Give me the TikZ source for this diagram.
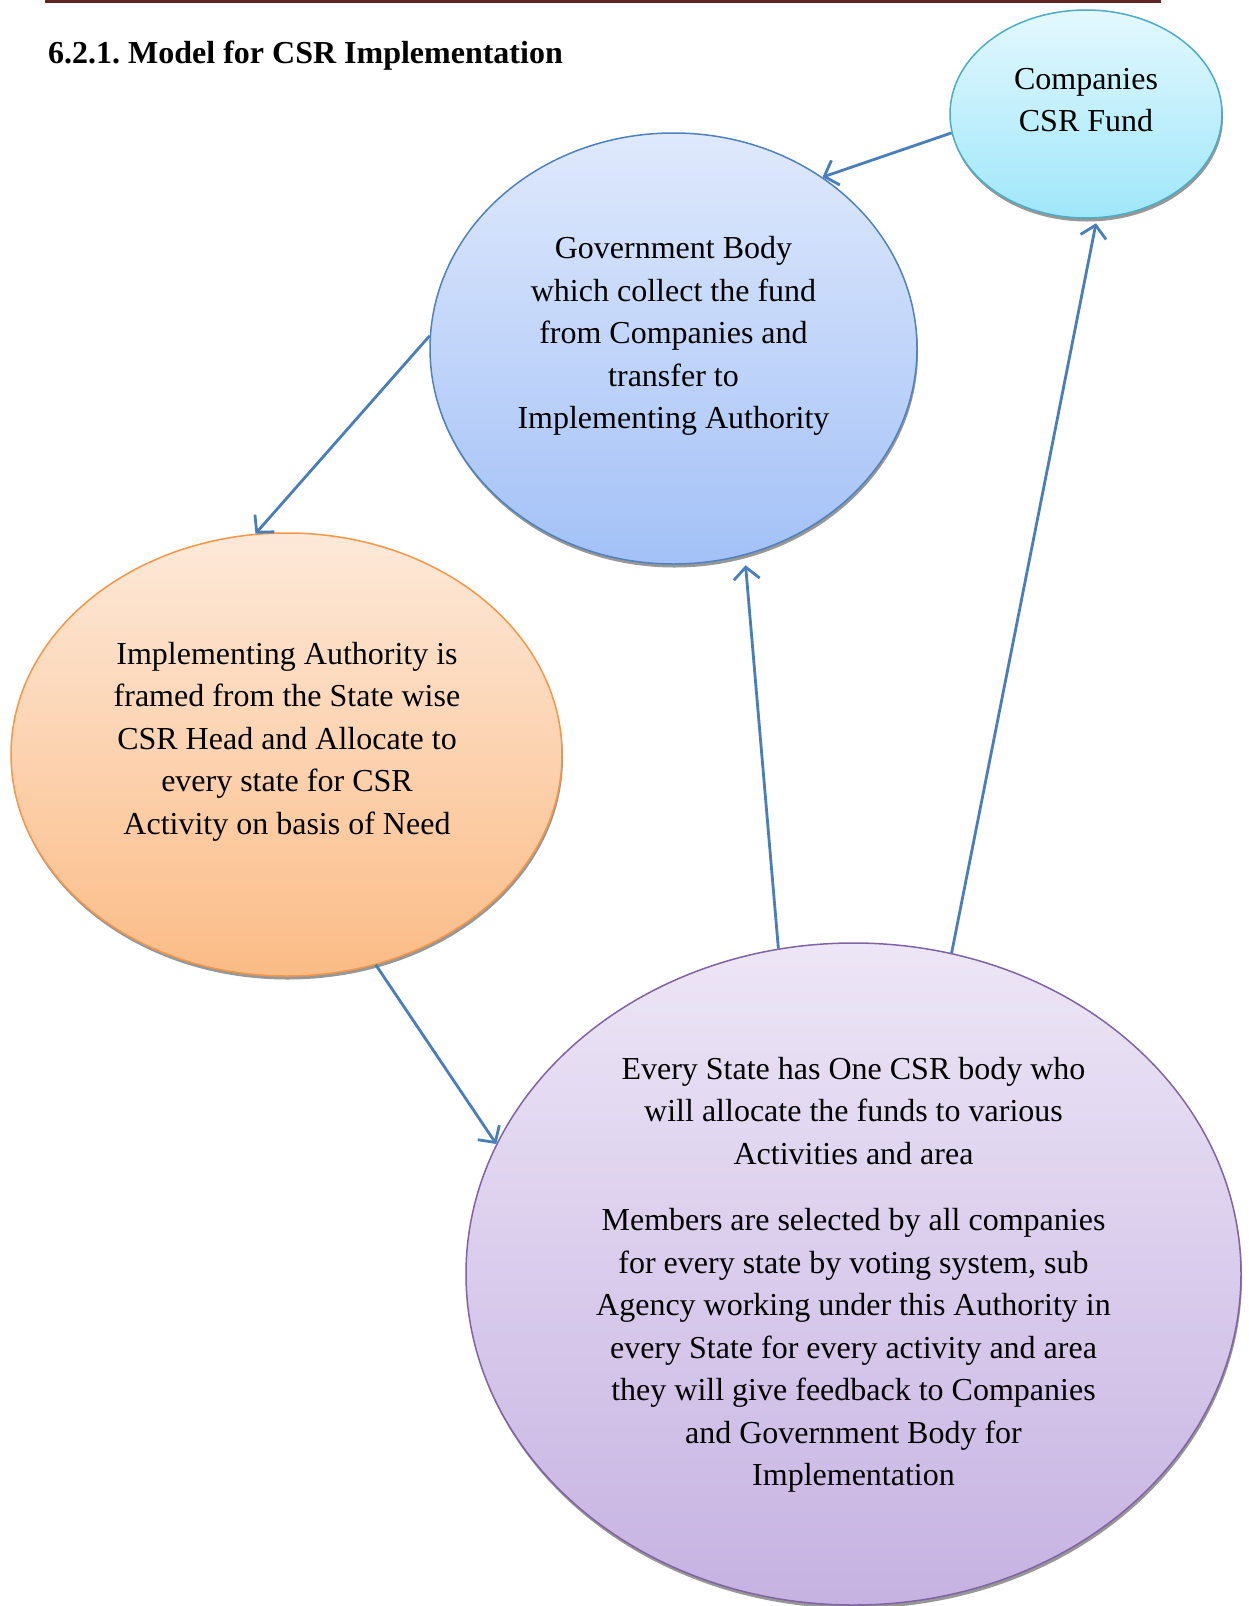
\documentclass[tikz,border=0pt]{standalone}
\usepackage{fontspec}
\setmainfont{Liberation Serif}
\usetikzlibrary{shapes.geometric,arrows.meta,shadows,calc}
\definecolor{arrowblue}{HTML}{4A7EBB}
\definecolor{topred}{HTML}{622423}
\definecolor{compdraw}{HTML}{4BACC6}
\definecolor{comptop}{HTML}{E3F8FE}
\definecolor{compbot}{HTML}{9FE7FA}
\definecolor{govdraw}{HTML}{4F81BD}
\definecolor{govtop}{HTML}{DFE9FC}
\definecolor{govbot}{HTML}{A3C1F7}
\definecolor{impdraw}{HTML}{F79646}
\definecolor{imptop}{HTML}{FDE9D9}
\definecolor{impbot}{HTML}{FBBC86}
\definecolor{evdraw}{HTML}{8064A2}
\definecolor{evtop}{HTML}{EDE6F6}
\definecolor{evbot}{HTML}{C6B2E2}
\frenchspacing
\begin{document}
\begin{tikzpicture}[x=1pt,y=-1pt,
  ell/.style={ellipse, draw, line width=1.5pt, inner sep=0pt,
    drop shadow={shadow xshift=1pt,shadow yshift=-3.5pt,fill=black!45,opacity=0.9}},
  txt/.style={align=center, font=\fontsize{32}{42.5}\selectfont, inner sep=0pt},
  conn/.style={draw=arrowblue, line width=2.8pt,
    -{Straight Barb[length=12pt,width=26pt]}}]
\useasboundingbox[fill=white] (0,0) rectangle (1248,1606);
\draw[line width=3pt, draw=topred] (45,1) -- (1161,1);
\node[anchor=base west, inner sep=0pt, font=\bfseries\fontsize{32}{38}\selectfont] (title) at (48,63) {6.2.1. Model for CSR Implementation};

\node[ell, draw=compdraw, top color=comptop, bottom color=compbot,
  minimum width=272pt, minimum height=208pt] (comp) at (1086,114) {};
\node[ell, draw=govdraw, top color=govtop, bottom color=govbot,
  minimum width=487pt, minimum height=431pt] (gov) at (673.5,348.5) {};
\node[ell, draw=impdraw, top color=imptop, bottom color=impbot,
  minimum width=551pt, minimum height=443pt] (impl) at (286.5,754.5) {};
\node[ell, draw=evdraw, top color=evtop, bottom color=evbot,
  minimum width=775pt, minimum height=662pt] (every) at (853.5,1274) {};

\node[txt] (comptxt) at (1086,100) {Companies\\CSR Fund};
\node[txt] (govtxt) at (673.5,336) {Government Body\\which collect the fund\\from Companies and\\transfer to\\Implementing Authority};
\node[txt] (impltxt) at (287,741.5) {Implementing Authority is\\framed from the State wise\\CSR Head and Allocate to\\every state for CSR\\Activity on basis of Need};
\node[txt] (evtxt) at (853.5,1275) {Every State has One CSR body who\\will allocate the funds to various\\Activities and area\\[24pt]Members are selected by all companies\\for every state by voting system, sub\\Agency working under this Authority in\\every State for every activity and area\\they will give feedback to Companies\\and Government Body for\\Implementation};

\draw[conn] (comp.188) -- (gov.49.4);
\draw[conn] (gov.177.5) -- (impl.98.2);
\draw[conn] (impl.-67.4) -- (every.160.3);
\draw[conn, shorten >=10pt] (every.103) -- (gov.-71.2);
\draw[conn, shorten >=5pt] (every.73.5) -- (comp.-84.3);
\end{tikzpicture}
\end{document}
